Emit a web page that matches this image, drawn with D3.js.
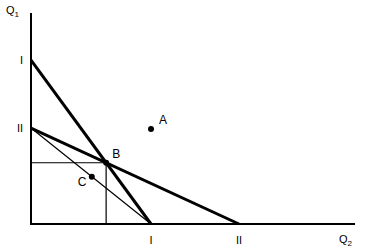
<!DOCTYPE html>
<html lang="en">
<head>
    <meta charset="UTF-8">
    <title>Budget lines</title>
    <script src="https://d3js.org/d3.v7.min.js"></script>
    <style>
        body { margin: 0; background: #fff; }
        text { font-family: "Liberation Sans", Arial, sans-serif; font-size: 11px; fill: #000; }
    </style>
</head>
<body>
    <script>
        // intercepts of the two lines (Q2 axis, Q1 axis)
        var lineNames = ["I", "II"]
        var q2Intercepts = [15, 26]
        var q1Intercepts = [20.5, 12]
        // thin line joins II on Q1 axis to I on Q2 axis
        var points = [
            { name: "A", q2: 15, q1: 11.9 },
            { name: "C", q2: 7.6, q1: 5.9 }
        ]

        var width = 366
        var height = 248

        var svg = d3.select("body").append("svg")
            .attr("width", width)
            .attr("height", height)

        var x = d3.scaleLinear().domain([0, 40.5]).range([31, 355])
        var y = d3.scaleLinear().domain([0, 26.4]).range([224, 13])

        // intersection B of lines I and II
        var a1 = q1Intercepts[0], b1 = q2Intercepts[0]
        var a2 = q1Intercepts[1], b2 = q2Intercepts[1]
        var bx = (a1 - a2) / (a1 / b1 - a2 / b2)
        var by = a1 * (1 - bx / b1)

        // thin guides to B
        svg.append("path")
            .attr("d", "M" + x(0) + "," + y(by) + "H" + x(bx) + "V" + y(0))
            .attr("fill", "none").attr("stroke", "#000").attr("stroke-width", 1.2)

        // thin line from II (Q1) to I (Q2)
        svg.append("line")
            .attr("x1", x(0)).attr("y1", y(q1Intercepts[1]))
            .attr("x2", x(q2Intercepts[0])).attr("y2", y(0))
            .attr("stroke", "#000").attr("stroke-width", 1.2)

        // thick lines I and II
        svg.selectAll(".budget").data(lineNames).enter().append("line")
            .attr("x1", x(0)).attr("y1", (d, i) => y(q1Intercepts[i]))
            .attr("x2", (d, i) => x(q2Intercepts[i])).attr("y2", y(0))
            .attr("stroke", "#000").attr("stroke-width", 3)

        // axes
        svg.append("path")
            .attr("d", "M" + x(0) + "," + y(26.4) + "V" + y(0) + "H" + x(40.5))
            .attr("fill", "none").attr("stroke", "#000").attr("stroke-width", 2)

        // tick labels
        svg.selectAll(".ylab").data(lineNames).enter().append("text")
            .attr("x", 23).attr("y", (d, i) => y(q1Intercepts[i]) + 4)
            .attr("text-anchor", "end").text(d => d)
        svg.selectAll(".xlab").data(lineNames).enter().append("text")
            .attr("x", (d, i) => x(q2Intercepts[i])).attr("y", 244)
            .attr("text-anchor", "middle").text(d => d)

        // axis names
        var q1 = svg.append("text").attr("x", 6).attr("y", 14)
        q1.append("tspan").text("Q")
        q1.append("tspan").attr("dy", 3).style("font-size", "8px").text("1")
        var q2 = svg.append("text").attr("x", 339).attr("y", 243)
        q2.append("tspan").text("Q")
        q2.append("tspan").attr("dy", 3).style("font-size", "8px").text("2")

        // points
        var all = points.concat([{ name: "B", q2: bx, q1: by }])
        svg.selectAll(".dot").data(all).enter().append("circle")
            .attr("cx", d => x(d.q2)).attr("cy", d => y(d.q1))
            .attr("r", 3).attr("fill", "#000")
        var offsets = { A: [8, -5], B: [6, -5], C: [-14, 9] }
        svg.selectAll(".plab").data(all).enter().append("text")
            .attr("x", d => x(d.q2) + offsets[d.name][0])
            .attr("y", d => y(d.q1) + offsets[d.name][1])
            .style("font-size", "12px")
            .text(d => d.name)
    </script>
</body>
</html>
